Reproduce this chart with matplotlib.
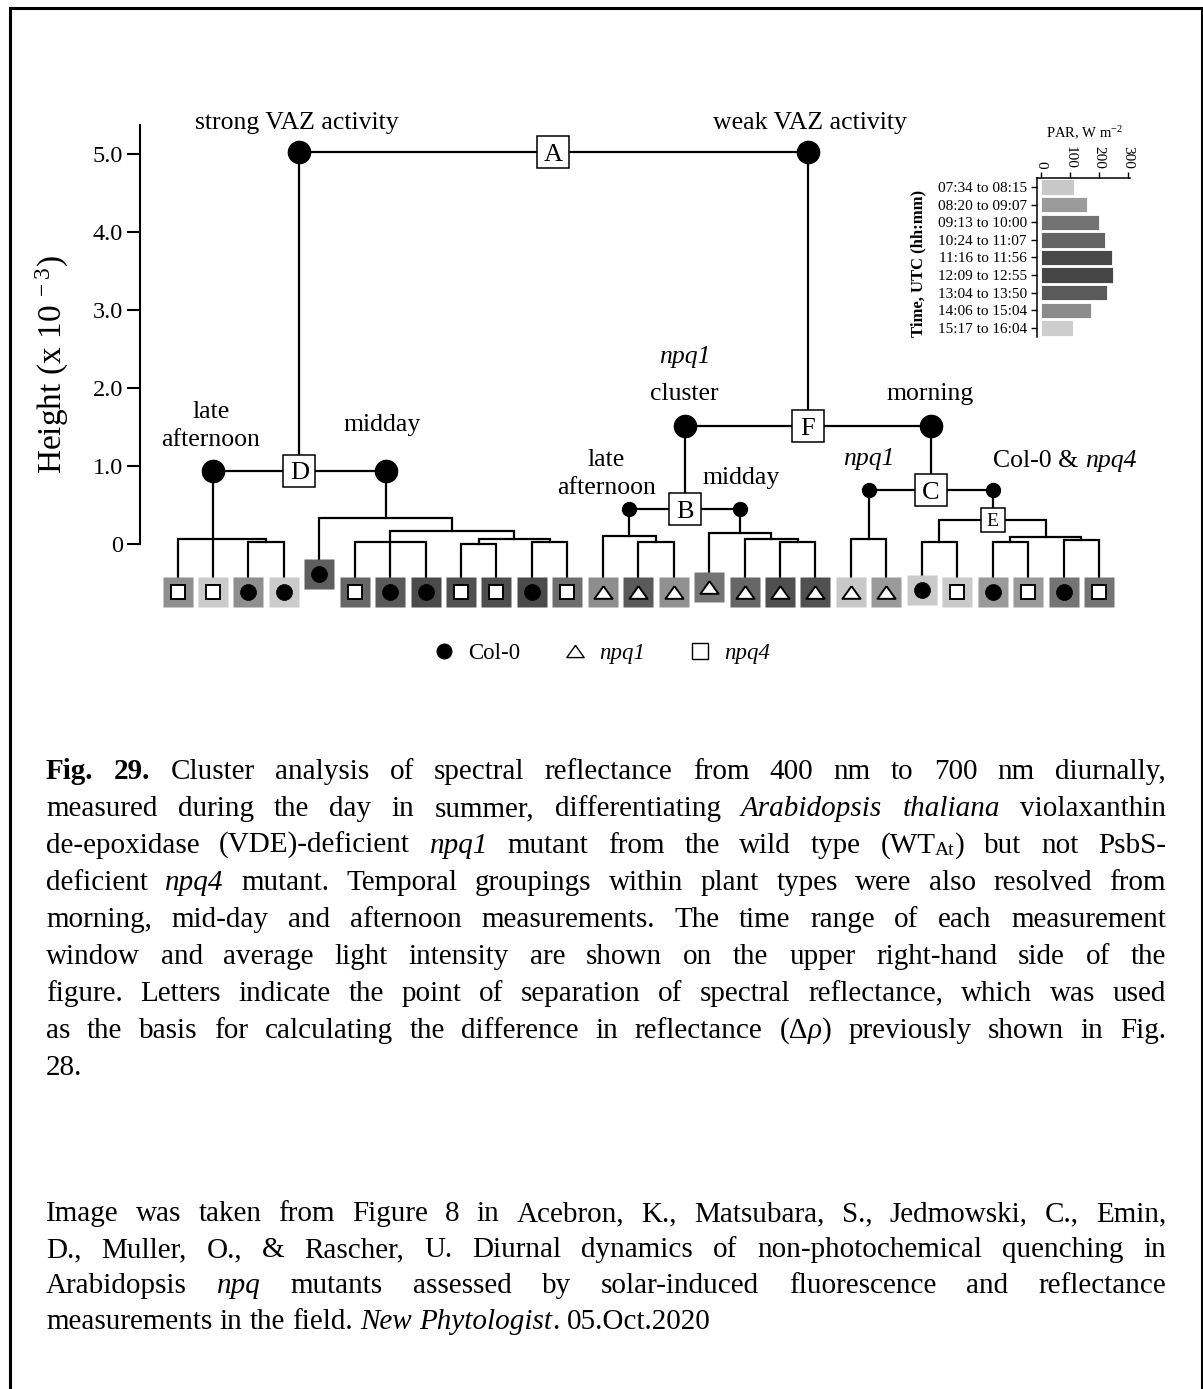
import re
import matplotlib
matplotlib.use("Agg")
import matplotlib.pyplot as plt
from matplotlib.lines import Line2D
from matplotlib.patches import Rectangle

plt.rcParams["font.family"] = ["Liberation Serif", "DejaVu Serif"]
plt.rcParams["mathtext.fontset"] = "custom"
plt.rcParams["mathtext.rm"] = "Liberation Serif"
plt.rcParams["mathtext.it"] = "Liberation Serif:italic"
plt.rcParams["mathtext.bf"] = "Liberation Serif:bold"

W, H = 1203, 1389

# --- leaves of the dendrogram, left to right ---
leaf_genotype = ["npq4", "npq4", "Col-0", "Col-0", "Col-0", "npq4", "Col-0", "Col-0",
                 "npq4", "npq4", "Col-0", "npq4",
                 "npq1", "npq1", "npq1", "npq1", "npq1", "npq1", "npq1",
                 "npq1", "npq1", "Col-0", "npq4", "Col-0", "npq4", "Col-0", "npq4"]
leaf_shade = ["#8f8f8f", "#cbcbcb", "#8f8f8f", "#cbcbcb", "#5e5e5e", "#666666",
              "#5a5a5a", "#4a4a4a", "#505050", "#4e4e4e", "#4a4a4a", "#6e6e6e",
              "#8e8e8e", "#5a5a5a", "#919191", "#747474", "#666666", "#4f4f4f",
              "#505050", "#c8c8c8", "#9a9a9a", "#cacaca", "#cacaca", "#9a9a9a",
              "#9a9a9a", "#747474", "#747474"]
leaf_lift = {4: 0.23, 15: 0.065, 21: 0.03}

# --- merges: (name, children, height x 10^-3) ---
merges = [
    ("m3_4", [2, 3], 0.03),
    ("m1_4", [0, 1, "m3_4"], 0.06),
    ("m6_8", [5, 6, 7], 0.03),
    ("m9_10", [8, 9], 0.005),
    ("m11_12", [10, 11], 0.03),
    ("m9_12", ["m9_10", "m11_12"], 0.06),
    ("m6_12", ["m6_8", "m9_12"], 0.17),
    ("m5_12", [4, "m6_12"], 0.33),
    ("D", ["m1_4", "m5_12"], 0.94),
    ("m14_15", [13, 14], 0.03),
    ("m13_15", [12, "m14_15"], 0.10),
    ("m18_19", [17, 18], 0.03),
    ("m17_19", [16, "m18_19"], 0.06),
    ("m16_19", [15, "m17_19"], 0.145),
    ("B", ["m13_15", "m16_19"], 0.45),
    ("m20_21", [19, 20], 0.064),
    ("m22_23", [21, 22], 0.03),
    ("m24_25", [23, 24], 0.03),
    ("m26_27", [25, 26], 0.05),
    ("m24_27", ["m24_25", "m26_27"], 0.094),
    ("E", ["m22_23", "m24_27"], 0.31),
    ("C", ["m20_21", "E"], 0.69),
    ("F", ["B", "C"], 1.51),
    ("A", ["D", "F"], 5.02),
]
big_nodes = ["A", "D", "F"]
small_nodes = ["B", "C"]

# --- PAR inset ---
par_window = ["07:34 to 08:15", "08:20 to 09:07", "09:13 to 10:00", "10:24 to 11:07",
              "11:16 to 11:56", "12:09 to 12:55", "13:04 to 13:50", "14:06 to 15:04",
              "15:17 to 16:04"]
par_value = [114, 161, 202, 222, 246, 250, 230, 172, 112]
par_shade = ["#c8c8c8", "#9b9b9b", "#737373", "#646464", "#484848", "#464646",
             "#5a5a5a", "#8c8c8c", "#cdcdcd"]

caption = [
    "{b:Fig.} {b:29.} Cluster analysis of spectral reflectance from 400 nm to 700 nm diurnally,",
    "measured during the day in summer, differentiating {i:Arabidopsis} {i:thaliana} violaxanthin",
    "de-epoxidase (VDE)-deficient {i:npq1} mutant from the wild type (WT{s:At}) but not PsbS-",
    "deficient {i:npq4} mutant. Temporal groupings within plant types were also resolved from",
    "morning, mid-day and afternoon measurements. The time range of each measurement",
    "window and average light intensity are shown on the upper right-hand side of the",
    "figure. Letters indicate the point of separation of spectral reflectance, which was used",
    "as the basis for calculating the difference in reflectance (Δ{i:ρ}) previously shown in Fig.",
    "28.",
]
source = [
    "Image was taken from Figure 8 in Acebron, K., Matsubara, S., Jedmowski, C., Emin,",
    "D., Muller, O., & Rascher, U. Diurnal dynamics of non-photochemical quenching in",
    "Arabidopsis {i:npq} mutants assessed by solar-induced fluorescence and reflectance",
    "measurements in the field. {i:New} {i:Phytologist}. 05.Oct.2020",
]


def fx(px):
    return px / W


def fy(py):
    return 1 - py / H


fig = plt.figure(figsize=(W / 100, H / 100), dpi=100)
fig.add_artist(Rectangle((fx(9.5), fy(1420)), (1201.5 - 9.5) / W, (1420 - 7.5) / H,
                         transform=fig.transFigure, fill=False, lw=2.2, ec="black"))

# --- dendrogram axes ---
LEAF0, STEP = 177.5, 35.44   # pixel of first leaf, pixel per leaf
ZERO, UNIT = 544, 78         # pixel of height 0, pixel per 1e-3
ax = fig.add_axes([fx(140), fy(620), (1140 - 140) / W, (620 - 100) / H])
ax.set_xlim((140 - LEAF0) / STEP, (1140 - LEAF0) / STEP)
ax.set_ylim((ZERO - 620) / UNIT, (ZERO - 100) / UNIT)
for s in ["top", "right", "bottom"]:
    ax.spines[s].set_visible(False)
ax.spines["left"].set_bounds(0, 5.37)
ax.spines["left"].set_linewidth(1.5)
ax.set_xticks([])
ax.set_yticks([0, 1, 2, 3, 4, 5])
ax.set_yticklabels(["0", "1.0", "2.0", "3.0", "4.0", "5.0"])
ax.tick_params(axis="y", length=9.4, width=1.5, labelsize=17.5, pad=3)

LW = 1.6
LEAF_ROW = -0.62
pos = {i: float(i) for i in range(len(leaf_genotype))}
top = {i: LEAF_ROW + leaf_lift.get(i, 0.0) for i in range(len(leaf_genotype))}
for name, kids, h in merges:
    xs = sorted(pos[k] for k in kids)
    first = min(kids, key=lambda k: pos[k])
    last = max(kids, key=lambda k: pos[k])
    ax.plot([pos[first], pos[first], pos[last], pos[last]],
            [top[first], h, h, top[last]], color="black", lw=LW,
            solid_joinstyle="miter", zorder=1)
    for k in kids:
        if k is not first and k is not last:
            ax.plot([pos[k], pos[k]], [top[k], h], color="black", lw=LW, zorder=1)
    pos[name] = xs[len(xs) // 2] if len(xs) % 2 else (xs[0] + xs[-1]) / 2
    top[name] = h

link = {name: (kids, h) for name, kids, h in merges}
for name in big_nodes + small_nodes:
    kids, h = link[name]
    ms = 16 if name in big_nodes else 10
    ax.plot([pos[k] for k in kids], [h, h], ls="none", marker="o", ms=ms,
            mfc="black", mec="black", zorder=3)
for name in big_nodes + small_nodes + ["E"]:
    h = top[name]
    small = name == "E"
    ax.plot(pos[name], h, marker="s", ms=17 if small else 23, mfc="white",
            mec="black", mew=1.1, zorder=4)
    fs = 14 if small else 19
    ax.annotate(name, (pos[name], h), xytext=(0, -0.33 * fs), textcoords="offset points",
                ha="center", va="baseline", fontsize=fs, zorder=5)

# leaves
tri = [(0, 0.7), (-1, -0.7), (1, -0.7), (0, 0.7)]
inner = {"Col-0": dict(marker="o", ms=11.5, mfc="black", mec="black", mew=0.5),
         "npq1": dict(marker=tri, ms=13, mfc="white", mec="black", mew=1.4),
         "npq4": dict(marker="s", ms=9.5, mfc="white", mec="black", mew=1.4)}
for i, (g, c) in enumerate(zip(leaf_genotype, leaf_shade)):
    ax.plot(pos[i], top[i], marker="s", ms=20.9, mfc=c, mec="none", zorder=3)
    ax.plot(pos[i], top[i], ls="none", zorder=4, **inner[g])


# group labels, attached to the circles of the links
def label(node, side, text, dx, dy, ha="center", **kw):
    kids, h = link[node]
    ax.annotate(text, (pos[kids[side]], h), xytext=(dx * 0.72, dy * 0.72),
                textcoords="offset points", ha=ha, va="baseline",
                fontsize=18.5, **kw)


label("A", 0, "strong VAZ activity", -3, 23)
label("A", 1, "weak VAZ activity", 2, 23)
label("D", 0, "late", -2, 53)
label("D", 0, "afternoon", -2, 25)
label("D", 1, "midday", -4, 40)
label("F", 0, "npq1", 0, 63, style="italic")
label("F", 0, "cluster", 0, 26)
label("F", 1, "morning", 0, 26)
label("B", 0, "late", -23, 43)
label("B", 0, "afternoon", -23, 15)
label("B", 1, "midday", 1, 25)
label("C", 0, "npq1", 0, 25, style="italic")
label("C", 1, "Col-0 &", 86, 23, ha="right")
label("C", 1, "npq4", 92, 23, ha="left", style="italic")

fig.text(fx(52), fy(365), "Height (x 10$^{\\ -3}$)", rotation=90, ha="center",
         va="center", fontsize=24)

# legend
handles = [Line2D([], [], ls="none", marker="o", ms=10.5, mfc="black", mec="black"),
           Line2D([], [], ls="none", marker=tri, ms=12.5, mfc="white", mec="black", mew=1),
           Line2D([], [], ls="none", marker="s", ms=11, mfc="white", mec="black", mew=1)]
leg = fig.legend(handles, ["Col-0", "npq1", "npq4"], ncol=3, frameon=False, loc="center",
                 bbox_to_anchor=(fx(601), fy(653)), fontsize=16.5, handlelength=1.0,
                 handletextpad=0.55, columnspacing=1.9)
for t in leg.get_texts()[1:]:
    t.set_style("italic")

# --- PAR inset ---
ix = fig.add_axes([fx(1036.7), fy(336.7), (1130 - 1036.7) / W, (336.7 - 178.3) / H])
ix.barh(range(len(par_value)), par_value, height=0.88, color=par_shade,
        edgecolor="white", lw=0.6)
ix.set_ylim(len(par_value) - 0.5, -0.5)
ix.set_xlim(-13.8, 308)
ix.spines["right"].set_visible(False)
ix.spines["bottom"].set_visible(False)
ix.spines["left"].set_linewidth(1.1)
ix.spines["top"].set_linewidth(1.1)
ix.xaxis.tick_top()
ix.set_xticks([0, 100, 200, 300])
ix.set_xticklabels(["0", "100", "200", "300"], rotation=-90, va="bottom", ha="center")
ix.set_yticks(range(len(par_window)))
ix.set_yticklabels(par_window)
ix.tick_params(labelsize=11, length=4, width=1, pad=3)
fig.text(fx(1085), fy(133), "PAR, W m$^{-2}$", ha="center", va="center", fontsize=10.5)
fig.text(fx(918), fy(263), "Time, UTC (hh:mm)", rotation=90, ha="center", va="center",
         fontsize=12, weight="bold")

# --- justified caption text ---
renderer = fig.canvas.get_renderer()
STYLE = {"n": {}, "b": {"weight": "bold"}, "i": {"style": "italic"}, "s": {"fontsize": 14}}


def segments(word):
    out = []
    for part in re.split(r"(\{[bis]:[^}]*\})", word):
        if not part:
            continue
        m = re.fullmatch(r"\{([bis]):([^}]*)\}", part)
        out.append((m.group(2), m.group(1)) if m else (part, "n"))
    return out


def paragraph(lines, y0, step, left=46, right=1166, size=21):
    for k, line in enumerate(lines):
        y = y0 + k * step
        words = []
        for word in line.split(" "):
            parts = []
            for text, kind in segments(word):
                kw = {"fontsize": size, "ha": "left", "va": "baseline"}
                kw.update(STYLE[kind])
                t = fig.text(0, 0, text, **kw)
                parts.append((t, t.get_window_extent(renderer).width, kind))
            words.append(parts)
        widths = [sum(p[1] for p in parts) for parts in words]
        if k == len(lines) - 1:
            gap = 0.25 * size * 100 / 72
        else:
            gap = (right - left - sum(widths)) / (len(words) - 1)
        x = left
        for parts, wsum in zip(words, widths):
            xx = x
            for t, w, kind in parts:
                t.set_position((fx(xx), fy(y + (2 if kind == "s" else 0))))
                xx += w
            x += wsum + gap


paragraph(caption, 779, 37)
paragraph(source, 1221, 36)

fig.savefig("out.png", dpi=100)
